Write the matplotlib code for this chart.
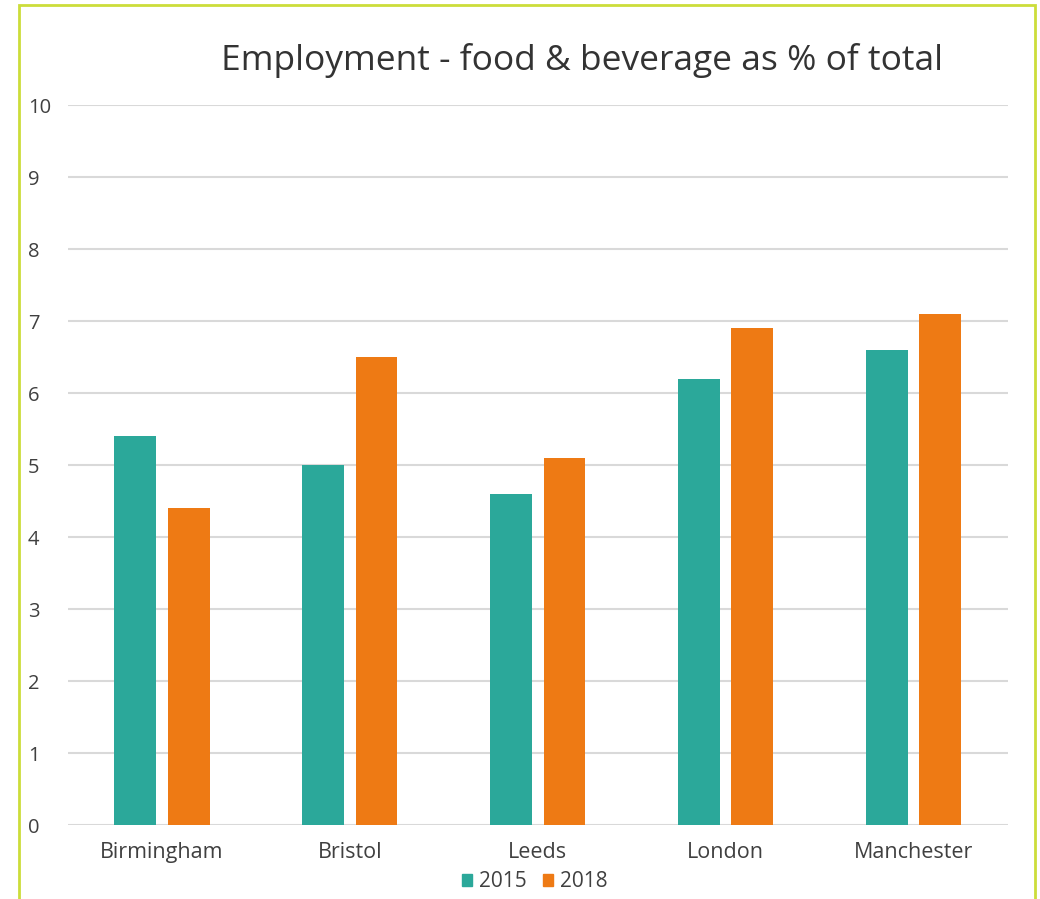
import numpy as np
import matplotlib
matplotlib.use("Agg")
import matplotlib.pyplot as plt
from matplotlib.patches import Rectangle, Patch

# datos
ciudades = ["Birmingham", "Bristol", "Leeds", "London", "Manchester"]
v2015 = [5.4, 5.0, 4.6, 6.2, 6.6]
v2018 = [4.4, 6.5, 5.1, 6.9, 7.1]

TEAL = "#2BA89A"
ORANGE = "#EE7A14"
TXT = "#404040"

plt.rcParams["font.family"] = ["Open Sans", "DejaVu Sans"]

fig = plt.figure(figsize=(10.4, 8.99), dpi=100)
ax = fig.add_axes([0.0654, 0.0823, 0.9036, 0.8008])

x = np.arange(len(ciudades))
w = 0.223
gap = 0.06
ax.bar(x - (w + gap) / 2, v2015, width=w, color=TEAL, zorder=3, label="2015")
ax.bar(x + (w + gap) / 2, v2018, width=w, color=ORANGE, zorder=3, label="2018")

ax.set_xlim(-0.5, len(ciudades) - 0.5)
ax.set_ylim(0, 10)
ax.set_yticks(range(0, 11))
ax.set_xticks(x)
ax.set_xticklabels(ciudades)
ax.grid(axis="y", color="#D9D9D9", lw=1.5, zorder=0)
ax.set_axisbelow(True)
for s in ax.spines.values():
    s.set_visible(False)
ax.tick_params(axis="y", length=0, colors=TXT, labelsize=14.5)
ax.tick_params(axis="x", length=0, colors=TXT, labelsize=15.5, pad=12)
for lbl in ax.get_yticklabels():
    lbl.set_horizontalalignment("left")
ax.yaxis.set_tick_params(pad=29)

# titulo
fig.text(0.56, 0.933, "Employment - food & beverage as % of total",
         ha="center", va="center", fontsize=25.5, color="#333333")

# leyenda
handles = [Patch(color=TEAL, label="2015"), Patch(color=ORANGE, label="2018")]
fig.legend(handles=handles, loc="center", bbox_to_anchor=(0.514, 0.019),
           ncol=2, frameon=False, fontsize=15, handlelength=0.5,
           handleheight=0.5, handletextpad=0.3, columnspacing=0.8,
           labelcolor=TXT)

# borde
fig.patches.append(Rectangle((0.018, -0.02), 0.977, 1.0144,
                             transform=fig.transFigure, fill=False,
                             edgecolor="#CCDD3A", lw=2))

fig.savefig("out.png", dpi=100)
